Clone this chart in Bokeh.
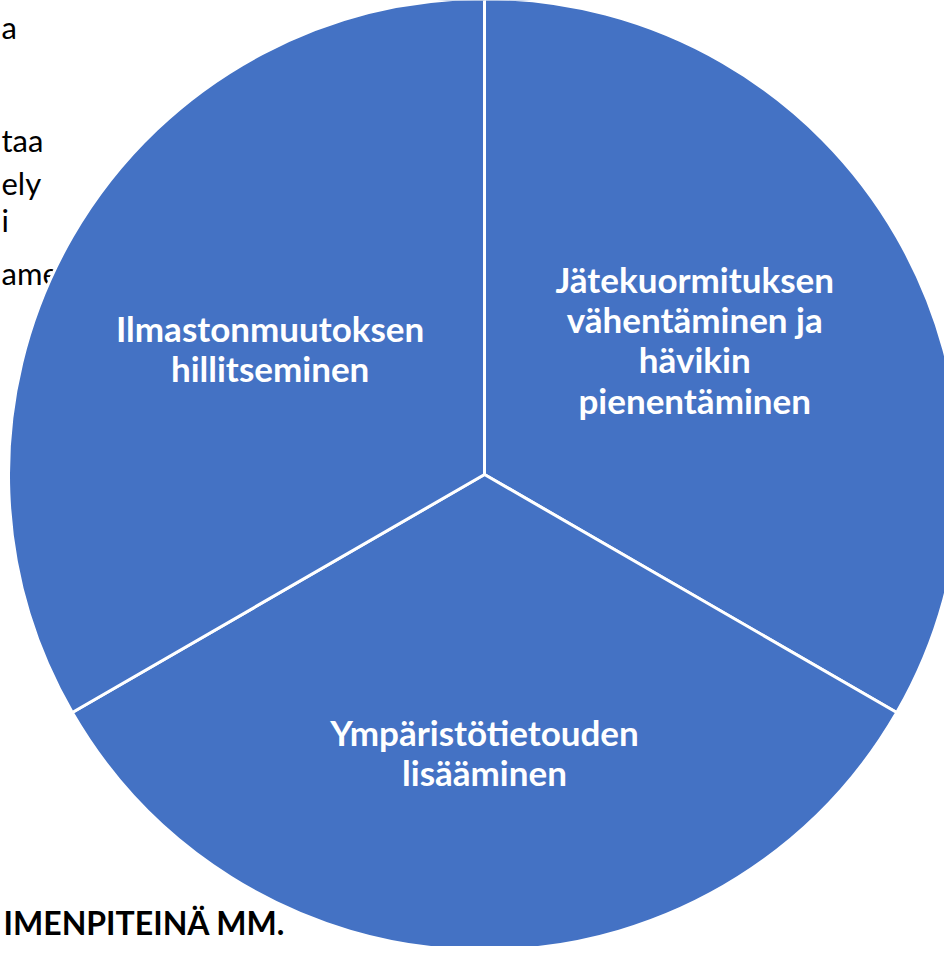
import numpy as np
from bokeh.plotting import figure
from bokeh.models import ColumnDataSource, Range1d
from bokeh.core.properties import value
from bokeh.embed import file_html
from bokeh.resources import INLINE

# ---- data ----
categories = [
    "Jätekuormituksen\nvähentäminen ja\nhävikin\npienentäminen",
    "Ympäristötietouden\nlisääminen",
    "Ilmastonmuutoksen\nhillitseminen",
]
shares = [1, 1, 1]

background_lines = ["a", "taa", "ely", "i", "ame"]
background_heading = ["IMENPITEINÄ MM."]

# ---- layout (screen-like coordinates: x right, y up) ----
label_radius_frac = [0.51, 0.57, 0.52]
label_nudge_y = [14, -6, 3]

W, H = 944, 946
cx, cy, R = 484, 472, 476
BLUE = "#4472C4"

vals = np.array(shares, dtype=float)
frac = vals / vals.sum()
ends_cw = np.cumsum(frac) * 2 * np.pi
starts_cw = ends_cw - frac * 2 * np.pi
start_angle = np.pi / 2 - ends_cw
end_angle = np.pi / 2 - starts_cw
mid = (start_angle + end_angle) / 2

src = ColumnDataSource(dict(
    x=[cx] * len(vals), y=[cy] * len(vals),
    start=start_angle, end=end_angle,
    lx=cx + np.array(label_radius_frac) * R * np.cos(mid),
    ly=cy + np.array(label_radius_frac) * R * np.sin(mid) + np.array(label_nudge_y),
    label=categories,
))

p = figure(width=W, height=H, output_backend="svg", toolbar_location=None,
           x_range=Range1d(0, W), y_range=Range1d(0, H), min_border=0)
p.axis.visible = False
p.grid.visible = False
p.outline_line_color = None
p.background_fill_color = "white"
p.border_fill_color = "white"

# background slide text fragments (behind the pie)
bg_left = [1, 1, 1, 1, 1]
bg_base = [920, 807, 764, 727, 674]
p.text(x=bg_left, y=bg_base, text=background_lines, text_align="left",
       text_baseline="alphabetic", text_font=value("Lato"),
       text_font_size="31px", text_color="black")
p.text(x=[3], y=[24], text=background_heading, text_align="left",
       text_baseline="alphabetic", text_font=value("Lato"),
       text_font_style="bold", text_font_size="32px", text_color="black")

p.wedge(x="x", y="y", radius=R, start_angle="start", end_angle="end",
        source=src, fill_color=BLUE, line_color="white", line_width=3)

p.text(x="lx", y="ly", text="label", source=src, text_align="center",
       text_baseline="middle", text_font=value("Lato"), text_font_style="bold",
       text_font_size="35px", text_line_height=0.96, text_color="white")

open("out.html", "w").write(file_html(p, INLINE))
